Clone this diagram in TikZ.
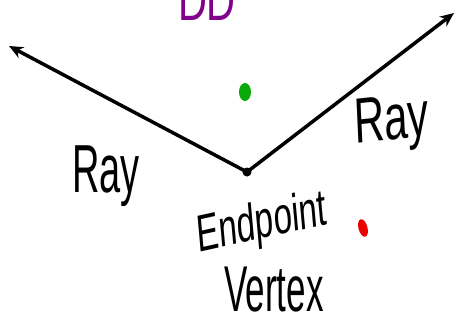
\documentclass[tikz,border=0pt]{standalone}
\usepackage{fontspec}
\setmainfont{Liberation Sans}
\usetikzlibrary{arrows.meta}
\definecolor{dotgreen}{RGB}{10,170,10}
\definecolor{dotred}{RGB}{235,0,0}
\definecolor{inkpurple}{RGB}{130,0,140}
\tikzset{
  ray/.style={line width=3.5pt, -{Stealth[length=14pt,width=12pt]}},
  hand/.style={inner sep=0pt, font=\fontsize{#1}{#1}\selectfont},
}
\begin{document}
\begin{tikzpicture}[x=1pt,y=1pt]
\useasboundingbox (0,0) rectangle (456,-327);
\coordinate (v) at (247,-172);
\coordinate (l) at (9,-46);
\coordinate (r) at (454,-13);
\draw[ray] (v) -- (l);
\draw[ray] (v) -- (r);
\fill (v) circle (4.5);
\fill[dotgreen] (245,-92) ellipse (6 and 9);
\fill[dotred, rotate around={15:(363,-228)}] (363,-228) ellipse (4.5 and 9);
\node[hand=40, xscale=0.95, yscale=1.7] (rayl) at (106,-176) {Ray};
\node[hand=40, xscale=1.05, yscale=1.6, rotate=4] (rayr) at (392,-124) {Ray};
\node[hand=36, xscale=0.92, yscale=1.45, rotate=8] (ep) at (262,-225) {Endpoint};
\node[hand=35, xscale=1.0, yscale=1.85] (vx) at (274,-290) {Vertex};
\node[hand=40, text=inkpurple, anchor=base, yscale=1.4] (top) at (207,-20) {DD};
\end{tikzpicture}
\end{document}
